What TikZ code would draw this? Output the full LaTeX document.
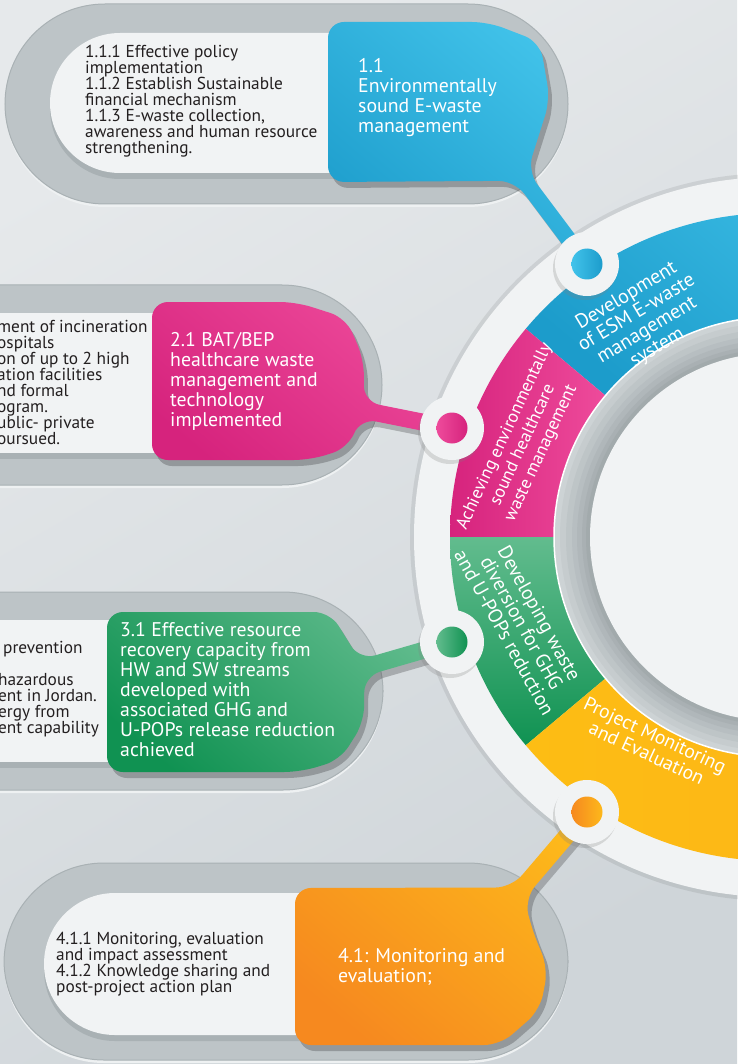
\documentclass[tikz,border=0pt]{standalone}
\usepackage{fontspec}
\setmainfont{PT Sans}
\usetikzlibrary{positioning, calc, shadows}
\definecolor{bgtop}{HTML}{E6E9EB}
\definecolor{bgbottom}{HTML}{CFD5D9}
\definecolor{capsulegray}{HTML}{BDC4C7}
\definecolor{capsuleedge}{HTML}{A9B1B4}
\definecolor{capsulerim}{HTML}{EEF1F2}
\definecolor{panelwhite}{HTML}{F1F3F4}
\definecolor{inktext}{HTML}{231F20}
\definecolor{ewasteblue}{HTML}{42C3EA}
\definecolor{ewastebluedk}{HTML}{1C9CCB}
\definecolor{healthpink}{HTML}{EE4B9B}
\definecolor{healthpinkdk}{HTML}{D6237D}
\definecolor{ghggreen}{HTML}{62BC8E}
\definecolor{ghggreendk}{HTML}{109252}
\definecolor{monorange}{HTML}{FDB81B}
\definecolor{monorangedk}{HTML}{F6891F}
\definecolor{ringyellow}{HTML}{FDBD14}
\definecolor{ringgray}{HTML}{CDD3D5}
\definecolor{ringdark}{HTML}{9DA5A8}

\tikzset{
  capsule/.style={fill=capsulegray, draw=capsuleedge, line width=1pt, rounded corners=100pt},
  rim/.style={fill=capsulerim, rounded corners=100pt},
  panel/.style={fill=panelwhite},
  subtext/.style={anchor=west, align=left, inner sep=0pt, text=inktext, font=\fontsize{17.3}{16}\selectfont},
  outtext/.style={anchor=west, align=left, inner sep=0pt, text=white, font=\fontsize{19.8}{20}\selectfont},
  ringtext/.style={align=center, inner sep=0pt, text=white},
  knob/.style={circle, fill=panelwhite, minimum size=64pt, inner sep=0pt, drop shadow={shadow xshift=-2pt, shadow yshift=-4pt, opacity=.25}},
  dot/.style={circle, minimum size=31pt, inner sep=0pt},
  bubshadow/.style={fill=black, opacity=.22},
}

\begin{document}
\begin{tikzpicture}[x=1pt, y=-1pt]
\useasboundingbox (0,0) rectangle (737,1064);

% Background
\shade[top color=bgtop, bottom color=bgbottom, shading angle=30] (0,0) rectangle (737,1064);

% Capsules
\fill[rim] (5,7) rectangle (568,207);
\filldraw[capsule] (5,4) rectangle (568,204);
\fill[rim] (-200,288) rectangle (382,488);
\filldraw[capsule] (-200,285) rectangle (382,485);
\fill[rim] (-200,595) rectangle (383,793);
\filldraw[capsule] (-200,592) rectangle (383,790);
\fill[rim] (4,866) rectangle (568,1063);
\filldraw[capsule] (4,863) rectangle (568,1060);

% White panels
\fill[capsuleedge, rounded corners=70pt] (50,39) rectangle (400,179);
\fill[panel, rounded corners=70pt] (50,33) rectangle (400,173);
\fill[capsuleedge] (-100,319) rectangle (250,459);
\fill[panel] (-100,313) rectangle (250,453);
\fill[capsuleedge] (-100,626) rectangle (250,768);
\fill[panel] (-100,620) rectangle (250,762);
\fill[capsuleedge, rounded corners=71pt] (44,899) rectangle (400,1041);
\fill[panel, rounded corners=71pt] (44,893) rectangle (400,1035);

% Ring
\coordinate (hub) at (774,537);
\fill[black, opacity=.08] (hub) circle[radius=364];
\fill[panelwhite] (hub) circle[radius=360];
\shade[top color=ewasteblue, bottom color=ewastebluedk, shading angle=-40]
  ([shift={(-140:324)}]hub) arc[start angle=-140, end angle=-40, radius=324]
  -- ([shift={(-40:220)}]hub) arc[start angle=-40, end angle=-140, radius=220] -- cycle;
\shade[left color=healthpinkdk, right color=healthpink]
  ([shift={(-180:324)}]hub) arc[start angle=-180, end angle=-140, radius=324]
  -- ([shift={(-140:220)}]hub) arc[start angle=-140, end angle=-180, radius=220] -- cycle;
\shade[top color=ghggreen, bottom color=ghggreendk]
  ([shift={(140:324)}]hub) arc[start angle=140, end angle=180, radius=324]
  -- ([shift={(180:220)}]hub) arc[start angle=180, end angle=140, radius=220] -- cycle;
\shade[left color=ringyellow, right color=monorange!90!orange]
  ([shift={(40:324)}]hub) arc[start angle=40, end angle=140, radius=324]
  -- ([shift={(140:220)}]hub) arc[start angle=140, end angle=40, radius=220] -- cycle;
\foreach \rad/\tone in {220/0, 214/15, 208/30, 202/45, 197/60, 192/75, 188/90}
  \fill[ringdark!\tone!ringgray] (hub) circle[radius=\rad];
\draw[white, line width=1.5pt] (hub) circle[radius=220];
\fill[panelwhite] (hub) circle[radius=184];

% Ring labels
\node[ringtext, rotate=31, font=\fontsize{20}{20}\selectfont] (r1) at (642,322) {Development\\of ESM E-waste\\management\\system};
\node[ringtext, rotate=65, font=\fontsize{17.8}{20}\selectfont] (r2) at (523,445) {Achieving environmentally\\sound healthcare\\waste management};
\node[ringtext, rotate=-61, font=\fontsize{19.8}{20}\selectfont] (r3) at (522,623) {Developing waste\\diversion for GHG\\and U-POPs reduction};
\node[ringtext, rotate=-25, font=\fontsize{19.5}{20}\selectfont] (r4) at (651,744) {Project Monitoring\\and Evaluation};

% Knob positions and tail bases
\coordinate (knob1) at (587,264);
\coordinate (knob2) at (452,428);
\coordinate (knob3) at (452,642);
\coordinate (knob4) at (587,812);
\coordinate (t1) at (521,176);
\coordinate (t2) at (362,410);
\coordinate (t3) at (362,668);
\coordinate (t4) at (518,893);

% Bubble 1
\path[save path=\bubbleA, rounded corners=16pt]
  (328,100) -- (328,22) -- (488,22) -- (540,42) -- (550,100)
  -- ($(t1)!8pt!90:(knob1)$) -- ($(knob1)!8pt!-90:(t1)$)
  -- ($(knob1)!8pt!90:(t1)$) -- ($(t1)!8pt!-90:(knob1)$)
  -- (328,182) -- cycle;
% Bubble 2
\path[save path=\bubbleB, rounded corners=16pt]
  (152,380) -- (152,302) -- (296,302) -- (346,318) -- (364,360)
  -- ($(t2)!8.5pt!90:(knob2)$) -- ($(knob2)!8.5pt!-90:(t2)$)
  -- ($(knob2)!8.5pt!90:(t2)$) -- ($(t2)!8.5pt!-90:(knob2)$)
  -- (348,448) -- (310,460) -- (152,460) -- cycle;
% Bubble 3
\path[save path=\bubbleC, rounded corners=16pt]
  (107,690) -- (107,612) -- (330,612)
  -- ($(t3)!8.5pt!90:(knob3)$) -- ($(knob3)!8.5pt!-90:(t3)$)
  -- ($(knob3)!8.5pt!90:(t3)$) -- ($(t3)!8.5pt!-90:(knob3)$)
  -- (364,722) -- (340,760) -- (300,772) -- (107,772) -- cycle;
% Bubble 4
\path[save path=\bubbleD, rounded corners=16pt]
  (295,966) -- (295,888)
  -- ($(t4)!8.5pt!90:(knob4)$) -- ($(knob4)!8.5pt!-90:(t4)$)
  -- ($(knob4)!8.5pt!90:(t4)$) -- ($(t4)!8.5pt!-90:(knob4)$)
  -- (532,930) -- (548,968) -- (540,1010) -- (500,1045) -- (295,1045) -- cycle;

\begin{scope}[transform canvas={shift={(4pt,-6pt)}}]
\fill[bubshadow, use path=\bubbleA];
\fill[bubshadow, use path=\bubbleB];
\fill[bubshadow, use path=\bubbleC];
\fill[bubshadow, use path=\bubbleD];
\end{scope}
\begin{scope}
\clip[use path=\bubbleA];
\shade[top color=ewasteblue, bottom color=ewastebluedk, shading angle=-40] (320,15) rectangle (600,280);
\end{scope}
\begin{scope}
\clip[use path=\bubbleB];
\shade[top color=healthpink, bottom color=healthpinkdk, shading angle=-40] (145,295) rectangle (460,470);
\end{scope}
\begin{scope}
\clip[use path=\bubbleC];
\shade[top color=ghggreen, bottom color=ghggreendk, shading angle=-40] (100,600) rectangle (460,780);
\end{scope}
\begin{scope}
\clip[use path=\bubbleD];
\shade[top color=monorange, bottom color=monorangedk, shading angle=-40] (290,800) rectangle (600,1052);
\end{scope}

% Knobs
\node[knob] (k1) at (knob1) {};
\node[dot, left color=ewasteblue, right color=ewastebluedk] (d1) at (knob1) {};
\node[knob] (k2) at (knob2) {};
\node[dot, left color=healthpink, right color=healthpinkdk] (d2) at (knob2) {};
\node[knob] (k3) at (knob3) {};
\node[dot, left color=ghggreen, right color=ghggreendk] (d3) at (knob3) {};
\node[knob] (k4) at (knob4) {};
\node[dot, left color=monorangedk, right color=monorange] (d4) at (knob4) {};

% Texts
\node[subtext] (s1) at (85,101) {1.1.1 Effective policy\\implementation\\1.1.2 Establish Sustainable\\financial mechanism\\1.1.3 E-waste collection,\\awareness and human resource\\strengthening.};
\node[outtext] (o1) at (358,98) {1.1\\Environmentally\\sound E-waste\\management};
\node[subtext] (s2) at (-3,382) {ment of incineration\\ospitals\\on of up to 2 high\\ation facilities\\nd formal\\ogram.\\ublic- private\\oursued.};
\node[outtext] (o2) at (170,381) {2.1 BAT/BEP\\healthcare waste\\management and\\technology\\implemented};
\node[subtext] (s3) at (-2,689) {\hspace*{5pt}prevention\\\mbox{}\\hazardous\\ent in Jordan.\\ergy from\\ent capability};
\node[outtext] (o3) at (120,690) {3.1 Effective resource\\recovery capacity from\\HW and SW streams\\developed with\\associated GHG and\\U-POPs release reduction\\achieved};
\node[subtext] (s4) at (56,964) {4.1.1 Monitoring, evaluation\\and impact assessment\\4.1.2 Knowledge sharing and\\post-project action plan};
\node[outtext] (o4) at (338,967) {4.1: Monitoring and\\evaluation;};
\end{tikzpicture}
\end{document}
